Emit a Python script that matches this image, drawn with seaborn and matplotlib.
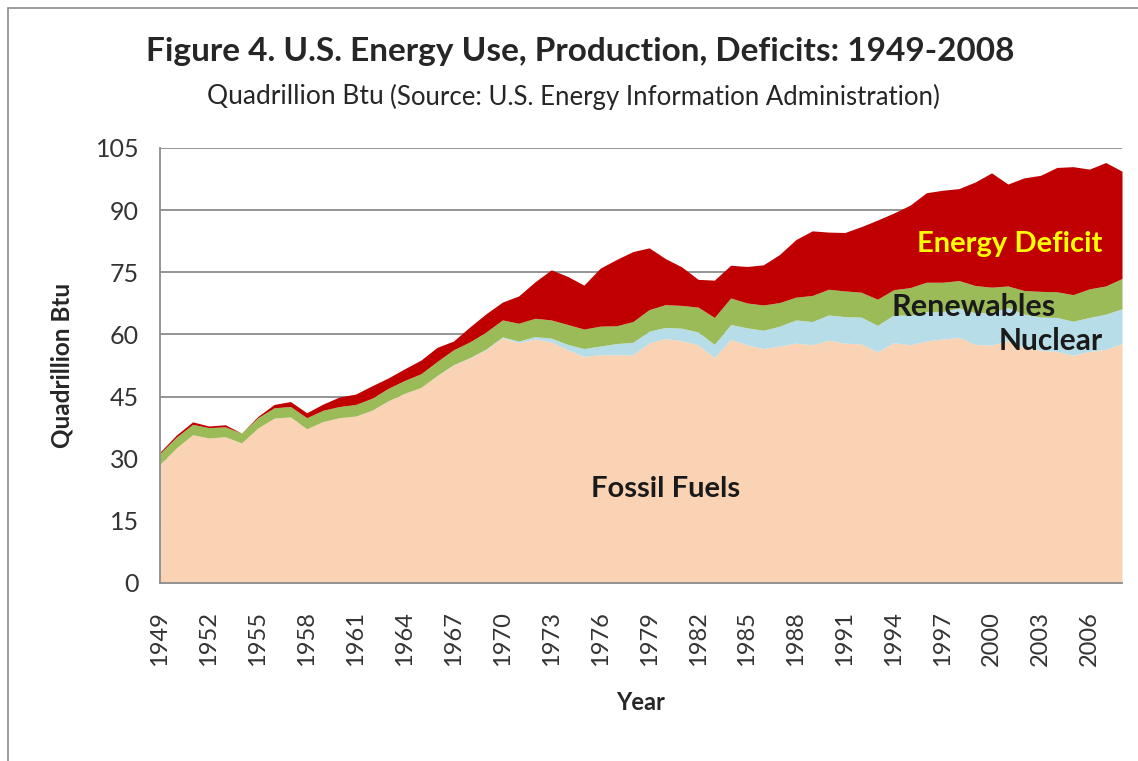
import numpy as np
import matplotlib
matplotlib.use("Agg")
import matplotlib.pyplot as plt
import seaborn as sns
from matplotlib.lines import Line2D

# =============================
# DATA (quadrillion Btu)
# =============================
years = list(range(1949, 2009))

fossil = [28.7, 32.6, 35.8, 35.0, 35.3, 33.8, 37.4, 39.8, 40.1, 37.2,
          39.0, 39.9, 40.3, 41.7, 44.0, 45.8, 47.2, 50.0, 52.6, 54.3,
          56.3, 59.2, 58.0, 58.9, 58.2, 56.3, 54.7, 55.1, 55.1, 55.1,
          58.0, 59.0, 58.5, 57.5, 54.4, 58.8, 57.5, 56.6, 57.2, 57.9,
          57.5, 58.6, 57.9, 57.7, 55.8, 58.0, 57.5, 58.4, 58.9, 59.3,
          57.6, 57.4, 58.5, 56.8, 56.2, 55.9, 55.0, 55.9, 56.4, 57.8]

nuclear = [0.0, 0.0, 0.0, 0.0, 0.0, 0.0, 0.0, 0.0, 0.0, 0.0,
           0.0, 0.0, 0.0, 0.0, 0.0, 0.0, 0.0, 0.1, 0.1, 0.1,
           0.2, 0.2, 0.4, 0.6, 0.9, 1.3, 1.9, 2.1, 2.7, 3.0,
           2.8, 2.7, 3.0, 3.1, 3.2, 3.6, 4.1, 4.4, 4.8, 5.6,
           5.6, 6.1, 6.4, 6.5, 6.4, 6.7, 7.1, 7.1, 6.6, 7.1,
           7.6, 7.9, 8.0, 8.1, 8.0, 8.2, 8.2, 8.2, 8.5, 8.4]

renewables = [2.6, 2.6, 2.5, 2.5, 2.4, 2.4, 2.5, 2.5, 2.5, 2.7,
              2.7, 2.7, 2.8, 2.9, 3.0, 3.1, 3.3, 3.4, 3.6, 3.8,
              4.1, 4.1, 4.3, 4.4, 4.4, 4.8, 4.7, 4.8, 4.3, 5.0,
              5.2, 5.5, 5.5, 6.0, 6.5, 6.4, 6.0, 6.1, 5.7, 5.5,
              6.3, 6.2, 6.2, 6.0, 6.3, 6.1, 6.7, 7.1, 7.1, 6.6,
              6.6, 6.1, 5.2, 5.7, 6.2, 6.2, 6.4, 6.9, 6.8, 7.3]

deficit = [0.3, 0.5, 0.6, 0.4, 0.5, 0.0, 0.3, 0.8, 1.2, 1.2,
           1.5, 2.3, 2.5, 3.0, 2.5, 2.8, 3.3, 3.4, 2.1, 3.6,
           4.4, 4.3, 6.6, 8.8, 12.1, 11.6, 10.6, 14.0, 16.0, 16.9,
           14.9, 11.1, 9.3, 6.7, 9.0, 7.9, 8.8, 9.7, 11.6, 13.9,
           15.6, 13.8, 14.1, 15.8, 19.1, 18.5, 19.9, 21.6, 22.2, 22.2,
           25.0, 27.6, 24.6, 27.2, 28.0, 30.0, 30.9, 28.9, 29.8, 25.9]

tick_years = [1949, 1952, 1955, 1958, 1961, 1964, 1967, 1970, 1973, 1976,
              1979, 1982, 1985, 1988, 1991, 1994, 1997, 2000, 2003, 2006]
y_ticks = [0, 15, 30, 45, 60, 75, 90, 105]

colors = ["#FAD3B4", "#B7DDE8", "#9BBB59", "#C00000"]

# =============================
# STYLE
# =============================
sns.set_style("white")
plt.rcParams['font.family'] = ['Lato', 'DejaVu Sans']

W, H = 1138, 761
fig = plt.figure(figsize=(W / 100, H / 100), dpi=100)
ax = fig.add_axes([160 / W, 1 - 583 / H, (1122 - 160) / W, (583 - 148) / H])

# =============================
# STACKED AREAS
# =============================
ax.stackplot(years, fossil, nuclear, renewables, deficit,
             colors=colors, linewidth=0, zorder=2)

ax.set_xlim(1949, 2008)
ax.set_ylim(0, 105)
ax.set_yticks(y_ticks)
ax.set_xticks(tick_years)
ax.set_xticklabels([str(t) for t in tick_years], rotation=90,
                   fontsize=17, color="#333333")
ax.set_yticklabels([str(t) for t in y_ticks], fontsize=18, color="#333333")
ax.tick_params(axis='x', length=0, pad=20)
ax.tick_params(axis='y', length=0, pad=15)

ax.yaxis.grid(True, color="#8c8c8c", linewidth=1.3, zorder=0)
ax.xaxis.grid(False)
ax.set_axisbelow(True)

sns.despine(ax=ax, top=True, right=True)
for side in ["left", "bottom"]:
    ax.spines[side].set_color("#8c8c8c")
    ax.spines[side].set_linewidth(1.3)

ax.set_ylabel("Quadrillion Btu", fontsize=17.5, fontweight="bold", labelpad=16)
ax.set_xlabel("Year", fontsize=17, fontweight="bold", labelpad=18)

# =============================
# LABELS INSIDE THE AREAS
# =============================
ax.text(2001.1, 81.8, "Energy Deficit", color="#FFFF00", fontsize=21,
        fontweight="bold", ha="center", va="center", zorder=5)
ax.text(1998.9, 66.6, "Renewables", color="#1a1a1a", fontsize=22,
        fontweight="bold", ha="center", va="center", zorder=5)
ax.text(2003.6, 58.4, "Nuclear", color="#1a1a1a", fontsize=21.5,
        fontweight="bold", ha="center", va="center", zorder=5)
ax.text(1980.0, 22.6, "Fossil Fuels", color="#1a1a1a", fontsize=21,
        fontweight="bold", ha="center", va="center", zorder=5)

# =============================
# TITLES
# =============================
fig.text(580 / W, 1 - 52 / H,
         "Figure 4. U.S. Energy Use, Production, Deficits: 1949-2008",
         fontsize=24, fontweight="bold", ha="center", va="center")
fig.text(384 / W, 1 - 97 / H, "Quadrillion Btu", fontsize=19,
         ha="right", va="center")
fig.text(390 / W, 1 - 97 / H,
         "(Source: U.S. Energy Information Administration)",
         fontsize=18.5, ha="left", va="center")

# frame around the figure (top and left edges visible)
fig.add_artist(Line2D([8 / W, 8 / W], [0, 1 - 8 / H], transform=fig.transFigure,
                      color="#8c8c8c", linewidth=1.2))
fig.add_artist(Line2D([8 / W, 1], [1 - 8 / H, 1 - 8 / H], transform=fig.transFigure,
                      color="#8c8c8c", linewidth=1.2))

fig.savefig("out.png", dpi=100, facecolor="white")
